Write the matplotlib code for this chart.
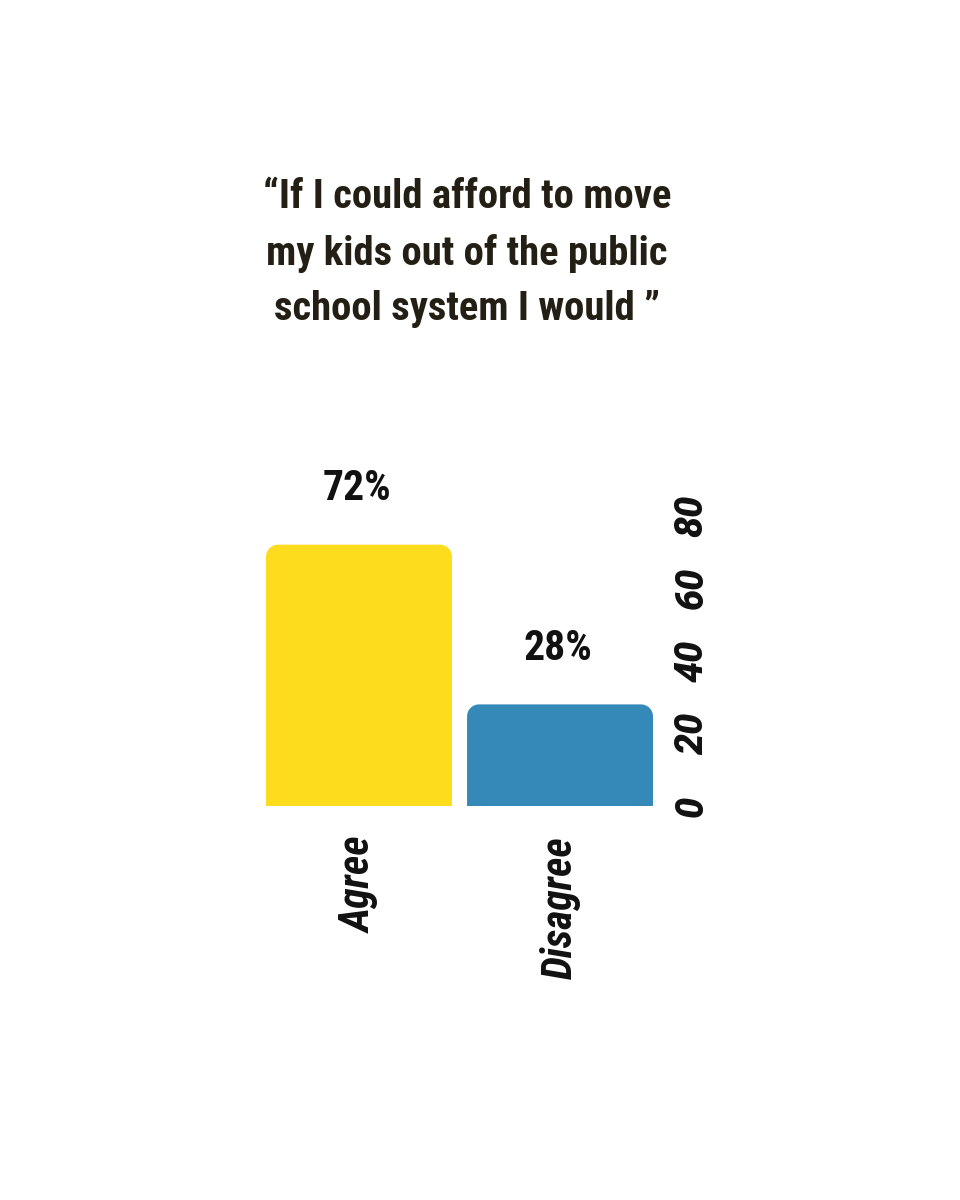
import matplotlib
matplotlib.use("Agg")
import matplotlib.pyplot as plt
from matplotlib import font_manager as fm
from matplotlib.path import Path
from matplotlib.patches import PathPatch

categories = ["Agree", "Disagree"]
values = [72, 28]
value_labels = ["72%", "28%"]
yticks = [0, 20, 40, 60, 80]
title = "\u201cIf I could afford to move\nmy kids out of the public\nschool system I would \u201d"
colors = ["#FDDC1E", "#3489B8"]

names = {f.name for f in fm.fontManager.ttflist}
FONT = "DejaVu Sans"
for cand in ["Roboto Condensed", "Liberation Sans Narrow", "Roboto"]:
    if cand in names:
        FONT = cand
        break
TICKFONT = "Roboto" if "Roboto" in names else FONT

fig = plt.figure(figsize=(9.6, 12), dpi=100)
fig.patch.set_facecolor("white")
ax = fig.add_axes([0.2771, 0.3283, 0.4031, 0.242])

width = 0.925
x = list(range(len(categories)))
bars = ax.bar(x, values, width=width, color=colors)
ax.set_xlim(-width / 2, len(categories) - 1 + width / 2)
ax.set_ylim(0, 80)

# replace bars with rounded-top versions
fig.canvas.draw()
bb = ax.get_window_extent()
px_x = bb.width / (ax.get_xlim()[1] - ax.get_xlim()[0])
px_y = bb.height / (ax.get_ylim()[1] - ax.get_ylim()[0])
r = 12
rx, ry = r / px_x, r / px_y
k = 0.5523
for b in bars:
    x0, y0 = b.get_x(), b.get_y()
    w, h = b.get_width(), b.get_height()
    x1, y1 = x0 + w, y0 + h
    verts = [
        (x0, y0), (x0, y1 - ry),
        (x0, y1 - ry + k * ry), (x0 + rx - k * rx, y1), (x0 + rx, y1),
        (x1 - rx, y1),
        (x1 - rx + k * rx, y1), (x1, y1 - ry + k * ry), (x1, y1 - ry),
        (x1, y0), (x0, y0),
    ]
    codes = [Path.MOVETO, Path.LINETO,
             Path.CURVE4, Path.CURVE4, Path.CURVE4,
             Path.LINETO,
             Path.CURVE4, Path.CURVE4, Path.CURVE4,
             Path.LINETO, Path.CLOSEPOLY]
    pp = PathPatch(Path(verts, codes), facecolor=b.get_facecolor(), edgecolor="none")
    b.set_visible(False)
    ax.add_patch(pp)

for xi, v, lab in zip(x, values, value_labels):
    ax.annotate(lab, (xi, v), xytext=(-2, 56), textcoords="offset pixels",
                ha="center", va="center", fontsize=30, fontweight="bold",
                family=FONT, color="#111111")

for s in ax.spines.values():
    s.set_visible(False)
ax.yaxis.tick_right()
ax.set_yticks(yticks)
ax.set_yticklabels([str(t) for t in yticks], rotation=90, va="center",
                   fontsize=27, fontweight=900, style="italic", family=TICKFONT,
                   color="#111111")
ax.tick_params(axis="y", length=0, pad=15)
ax.set_xticks(x)
ax.set_xticklabels(categories, rotation=90, ha="center", va="top",
                   fontsize=30, fontweight="bold", style="italic", family=FONT,
                   color="#111111")
ax.tick_params(axis="x", length=0, pad=22)

fig.text(0.4865, 1 - 253 / 1200, title, ha="center", va="center",
         fontsize=29.3, fontweight="bold", family=FONT, color="#241f14",
         linespacing=1.56)

fig.savefig("out.png", dpi=100, facecolor="white")
